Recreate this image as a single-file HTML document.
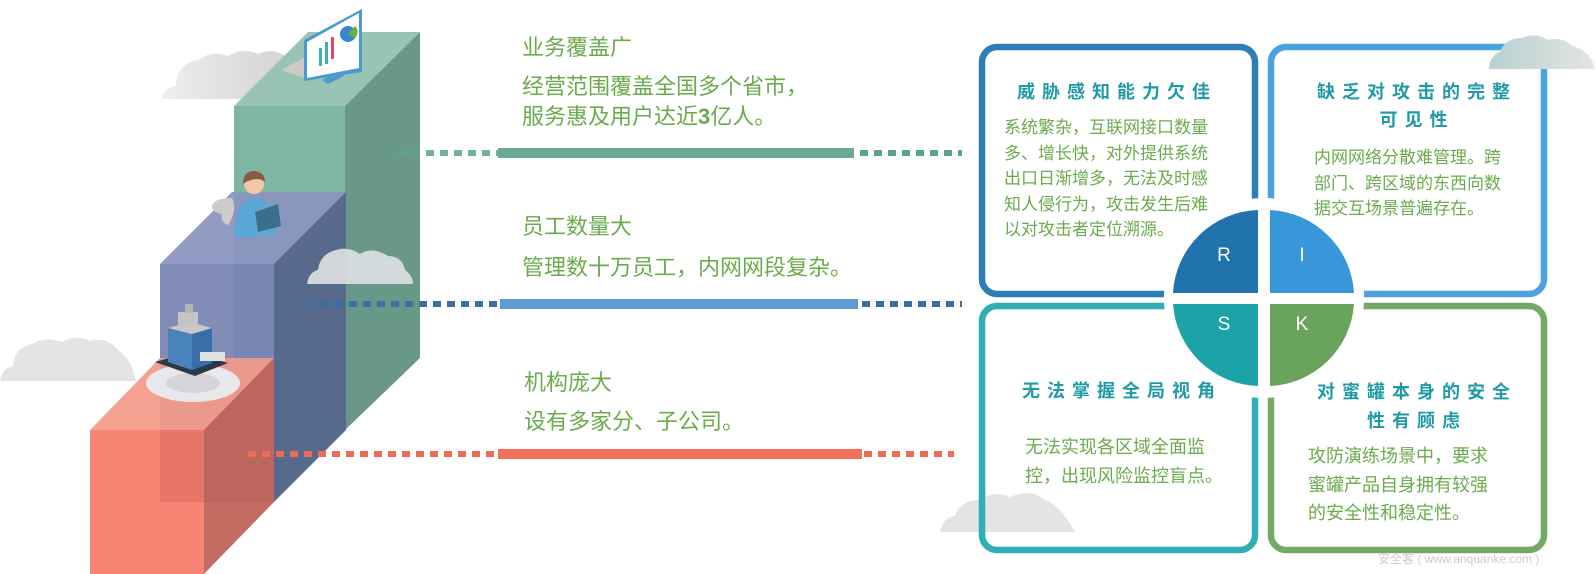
<!DOCTYPE html>
<html><head><meta charset="utf-8">
<style>
html,body{margin:0;padding:0;background:#fff;}
body{width:1596px;height:574px;position:relative;overflow:hidden;font-family:"Liberation Sans","Noto Sans CJK SC",sans-serif;}
.t{position:absolute;white-space:nowrap;color:#6aab4c;line-height:1;}
.h{color:#1f9ba8;font-weight:bold;font-size:18px;letter-spacing:7px;}
.b{font-size:17px;line-height:25.5px;}
</style></head><body>
<svg width="1596" height="574" style="position:absolute;left:0;top:0">
<defs>
<linearGradient id="cg" x1="0" x2="1"><stop offset="0" stop-color="#eeeeee"/><stop offset="1" stop-color="#cfcfcf"/></linearGradient>
<linearGradient id="cg2" x1="0" x2="1"><stop offset="0" stop-color="#b9d0d2"/><stop offset="1" stop-color="#e2e6e0"/></linearGradient>
</defs>
<!-- top cloud -->
<path d="M162 99 Q163 88 176 86 Q176 64 198 60 Q212 50 228 56 Q242 47 258 54 Q272 47 285 56 Q300 60 305 80 Q310 88 310 99 Z" fill="url(#cg)"/>
<path d="M0 381 Q2 368 13 366 Q14 348 32 344 Q45 336 62 342 Q75 334 90 341 Q108 336 120 352 Q132 360 136 381 Z" fill="#e4e4e4"/>
<path d="M940 532 Q942 518 955 516 Q960 500 980 500 Q995 490 1010 497 Q1030 488 1045 500 Q1060 505 1075 532 Z" fill="#e4e4e4"/>
<!-- green block -->
<polygon points="234,106 345,106 420,32 308,32" fill="#99c4b5"/>
<polygon points="234,106 345,106 345,430 234,430" fill="#7db7a4"/>
<polygon points="345,106 420,32 420,358 345,430" fill="#6a9888"/>
<!-- blue block -->
<polygon points="160,264 274,264 346,192 232,192" fill="#8a93bf" opacity="0.93"/>
<polygon points="160,264 274,264 274,502 160,502" fill="#7783b1" opacity="0.93"/>
<polygon points="274,264 346,192 346,430 274,502" fill="#586a8c"/>
<!-- middle cloud -->
<path d="M307 284 Q309 272 318 270 Q320 254 336 250 Q348 246 360 254 Q372 246 388 256 Q402 256 405 270 Q413 276 413 284 Z" fill="#dcdfe2" opacity="0.92"/>
<!-- red block -->
<polygon points="90,430 204,430 274,358 160,358" fill="#f29a88" opacity="0.93"/>
<polygon points="90,430 204,430 204,574 90,574" fill="#f58572"/>
<polygon points="204,430 274,358 274,502 204,574" fill="#c06458" opacity="0.95"/>
<polygon points="160,430 204,430 204,502 160,502" fill="#e07264" opacity="0.75"/>
<!-- building -->
<ellipse cx="193" cy="383" rx="47" ry="19" fill="#e8e8ec"/>
<ellipse cx="193" cy="383" rx="27" ry="10" fill="#d4d4da"/>
<polygon points="155,362 195,376 228,363 190,352" fill="#2a3a4a"/>
<polygon points="168,328 192,334 192,370 168,362" fill="#4a82bc"/>
<polygon points="192,334 212,328 212,363 192,370" fill="#3a6ea8"/>
<polygon points="168,328 190,322 212,328 192,334" fill="#c8c8c8"/>
<rect x="178" y="312" width="20" height="14" fill="#c4c4c4"/>
<rect x="185" y="304" width="8" height="9" fill="#b4b4b4"/>
<rect x="200" y="352" width="25" height="9" fill="#e0e0e0"/>
<!-- person -->
<path d="M212 206 Q214 198 232 198 Q238 210 228 225 Q220 222 222 214 Q212 212 212 206 Z" fill="#cfcbcb"/>
<circle cx="254" cy="184" r="10" fill="#f5c6a5"/>
<path d="M243 184 Q243 171 254 171 Q265 172 265 182 Q258 176 246 182 Z" fill="#8c5a44"/>
<path d="M235 238 Q234 202 254 198 Q272 202 276 216 L276 234 Z" fill="#5aa8d8"/>
<polygon points="255,212 278,204 281,226 258,232" fill="#3a6f8c"/>
<!-- monitor -->
<polygon points="281,70 304,78 304,58" fill="#cdcac6"/>
<polygon points="304,40 362,9 362,72 304,81" fill="#4a9ad0"/>
<polygon points="307,42 359,13 359,68 307,78" fill="#fff"/>
<rect x="319" y="48" width="3" height="18" fill="#3cb0b0"/>
<rect x="325" y="42" width="3" height="22" fill="#3cb0b0"/>
<rect x="331" y="37" width="3" height="22" fill="#e04a60"/>
<circle cx="348" cy="34" r="8" fill="#3a86d0"/>
<path d="M348 34 L355 26 A8 8 0 0 1 355 38 Z" fill="#6ab04a"/>
<polygon points="322,80 338,72 344,76 328,84" fill="#4a9ad0"/>
<!-- dashes -->
<g stroke-width="6" fill="none" stroke-dasharray="8 6">
<line x1="398" y1="153" x2="498" y2="153" stroke="#5aa38c" opacity="0.85"/>
<line x1="860" y1="153" x2="962" y2="153" stroke="#5aa38c"/>
<line x1="307" y1="304" x2="500" y2="304" stroke="#3c6ea6"/>
<line x1="862" y1="304" x2="962" y2="304" stroke="#3c6ea6"/>
<line x1="248" y1="454" x2="498" y2="454" stroke="#ee6b55"/>
<line x1="864" y1="454" x2="954" y2="454" stroke="#ee6b55"/>
</g>
<rect x="498" y="148" width="356" height="10" fill="#6aab94"/>
<rect x="500" y="299" width="358" height="10" fill="#5b9bd5"/>
<rect x="498" y="449" width="364" height="10" fill="#f07058"/>
<!-- boxes -->
<g fill="none" stroke-width="6.5">
<rect x="982" y="47" width="273" height="247" rx="15" stroke="#2f7db5"/>
<rect x="1271" y="47" width="273" height="247" rx="15" stroke="#4aa3df"/>
<rect x="982" y="306" width="273" height="244" rx="15" stroke="#2eafb3"/>
<rect x="1271" y="306" width="273" height="244" rx="15" stroke="#73aa68"/>
</g>
<circle cx="1264" cy="298" r="100" fill="#fff"/>
<path d="M1258 293 L1258 210 A88 88 0 0 0 1173 293 Z" fill="#2173ad"/>
<path d="M1270 293 L1270 210 A88 88 0 0 1 1354 293 Z" fill="#3897d8"/>
<path d="M1258 304 L1258 386 A88 88 0 0 1 1173 304 Z" fill="#1ba3a8"/>
<path d="M1270 304 L1270 386 A88 88 0 0 0 1354 304 Z" fill="#6aa35c"/>
<g fill="#fff" font-family="Liberation Sans,sans-serif" font-size="19" text-anchor="middle">
<text x="1224" y="261">R</text><text x="1302" y="261">I</text>
<text x="1224" y="330">S</text><text x="1302" y="330">K</text>
</g>
<path d="M1489 69 Q1490 55 1500 52 Q1505 38 1522 38 Q1535 32 1548 40 Q1562 36 1572 46 Q1590 50 1595 69 Z" fill="url(#cg2)"/>
</svg>

<div class="t" style="left:522px;top:37px;font-size:22px">业务覆盖广</div>
<div class="t" style="left:522px;top:76px;font-size:22px">经营范围覆盖全国多个省市，</div>
<div class="t" style="left:522px;top:106px;font-size:22px">服务惠及用户达近<b>3</b>亿人。</div>
<div class="t" style="left:522px;top:216px;font-size:22px">员工数量大</div>
<div class="t" style="left:522px;top:257px;font-size:22px">管理数十万员工，内网网段复杂。</div>
<div class="t" style="left:524px;top:372px;font-size:22px">机构庞大</div>
<div class="t" style="left:524px;top:411px;font-size:22px">设有多家分、子公司。</div>

<div class="t h" style="left:1012px;top:83px;width:210px;text-align:center">威胁感知能力欠佳</div>
<div class="t b" style="left:1004px;top:115px">系统繁杂，互联网接口数量<br>多、增长快，对外提供系统<br>出口日渐增多，无法及时感<br>知人侵行为，攻击发生后难<br>以对攻击者定位溯源。</div>

<div class="t h" style="left:1312px;top:78px;width:210px;text-align:center;line-height:28px">缺乏对攻击的完整<br>可见性</div>
<div class="t b" style="left:1314px;top:145px">内网网络分散难管理。跨<br>部门、跨区域的东西向数<br>据交互场景普遍存在。</div>

<div class="t h" style="left:1017px;top:382px;width:210px;text-align:center">无法掌握全局视角</div>
<div class="t b" style="left:1025px;top:433px;font-size:18px;line-height:29px">无法实现各区域全面监<br>控，出现风险监控盲点。</div>

<div class="t h" style="left:1312px;top:378px;width:210px;text-align:center;line-height:29px">对蜜罐本身的安全<br>性有顾虑</div>
<div class="t b" style="left:1308px;top:442px;font-size:18px;line-height:28.5px">攻防演练场景中，要求<br>蜜罐产品自身拥有较强<br>的安全性和稳定性。</div>
<div class="t" style="left:1378px;top:553px;font-size:12px;color:#ccc">安全客 ( www.anquanke.com )</div>
</body></html>
